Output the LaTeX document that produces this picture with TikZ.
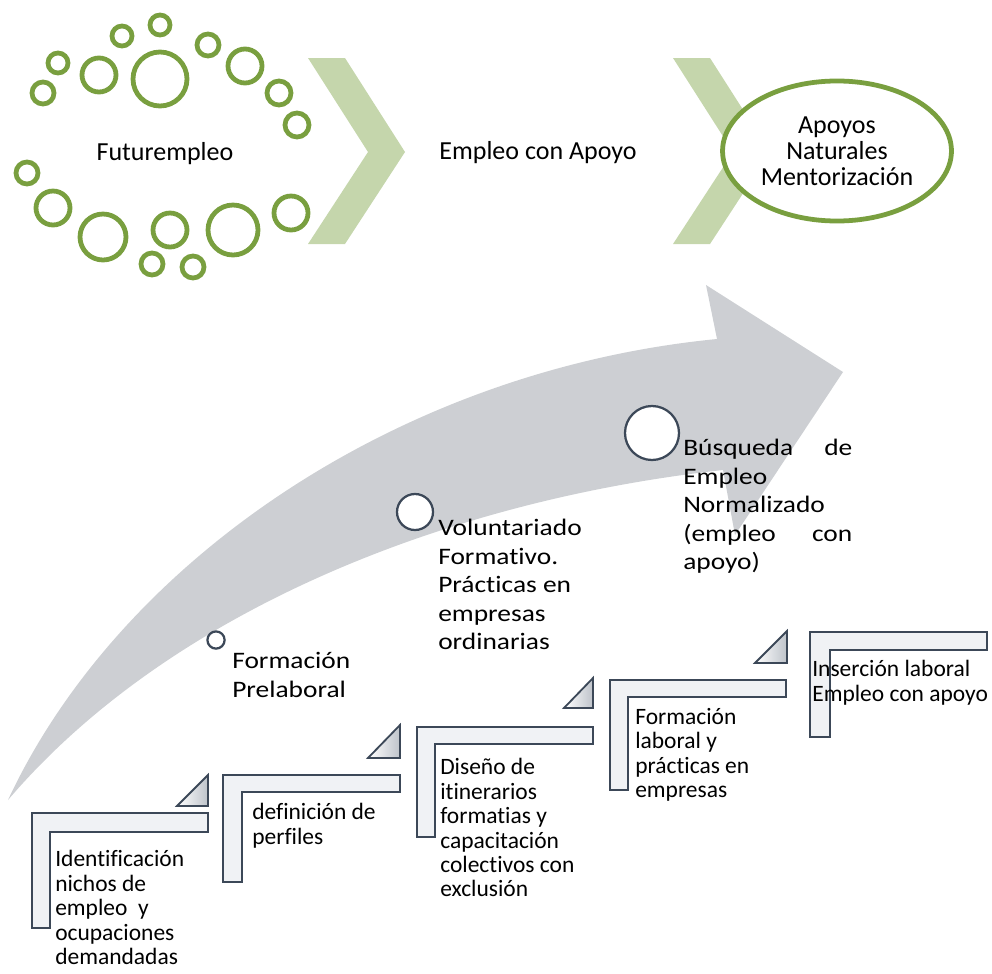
\documentclass[tikz,border=0pt]{standalone}
\usepackage{fontspec}
\setmainfont{Carlito}[Ligatures=NoCommon]
\newfontfamily\widefont{Carlito}[Ligatures=NoCommon, FakeStretch=1.16]
\usetikzlibrary{shapes.geometric}

\definecolor{ringgreen}{RGB}{121,159,63}
\definecolor{chevgreen}{RGB}{197,214,172}
\definecolor{arrowgray}{RGB}{205,207,211}
\definecolor{slate}{RGB}{60,72,88}
\definecolor{bevel}{RGB}{190,195,202}
\definecolor{stairfill}{RGB}{240,242,245}

\tikzset{
  ring/.style={draw=ringgreen, line width=3.4pt},
  chevron/.style={fill=chevgreen},
  stepdot/.style={circle, draw=slate, fill=white, line width=1.6pt, inner sep=0pt},
  stair/.style={draw=slate, line width=1.3pt, fill=stairfill, line join=miter},
  corner/.style={draw=slate, line width=1.3pt, left color=white, right color=bevel},
  toptext/.style={font=\fontsize{18.5}{18.5}\selectfont},
  steptext/.style={anchor=north west, inner sep=0pt, align=left, font=\widefont\fontsize{16.8}{20.3}\selectfont},
  stairtext/.style={anchor=north west, inner sep=0pt, align=left, font=\fontsize{16.7}{17.4}\selectfont},
}

\begin{document}
\begin{tikzpicture}[x=0.025cm, y=-0.025cm]
\useasboundingbox (0,0) rectangle (992,973);

% Drawing the chevrons
\fill[chevron] (308,58) -- (345,58) -- (405,152) -- (345,244) -- (308,244) -- (368,152) -- cycle;
\fill[chevron] (673,58) -- (710,58) -- (770,152) -- (710,244) -- (673,244) -- (733,152) -- cycle;

% Drawing the rings, upper half
\draw[ring] (160,25) circle (10) (122,36) circle (10) (58,63) circle (10) (43,93) circle (11);
\draw[ring] (99,75) circle (17) (160,79) circle (27) (208,45) circle (11) (245,66) circle (17);
\draw[ring] (279,93) circle (12) (297,125) circle (12);

% Drawing the rings, lower half
\draw[ring] (27,173) circle (11) (53,208) circle (17) (103,237) circle (23) (170,230) circle (17);
\draw[ring] (152,264) circle (11) (193,267) circle (11) (233,230) circle (25) (291,213) circle (17);

% Marking the three stages
\node[toptext, anchor=base] (futur) at (165,160) {Futurempleo};
\node[toptext, anchor=base] (eca) at (538,159) {Empleo con Apoyo};
\node[toptext, ellipse, draw=ringgreen, line width=3.4pt, fill=white, minimum width=5.7cm,
  minimum height=3.5cm, align=center] (apoyos) at (837,151) {Apoyos\\Naturales\\Mentorización};

% Drawing the big arrow
\fill[arrowgray] (8,800) .. controls (120,560) and (400,370) .. (717,339)
  -- (706,285) -- (843,372) -- (735,535) -- (723,470)
  .. controls (450,500) and (170,610) .. (8,800) -- cycle;

% Marking the points on the arrow
\node[stepdot, minimum size=0.43cm] (prelab) at (216,640) {};
\node[steptext] (prelabtxt) at (232,652) {Formación\\Prelaboral};

\node[stepdot, minimum size=0.9cm] (volun) at (415,512) {};
\node[steptext] (voluntxt) at (438,519) {Voluntariado\\Formativo.\\Prácticas en\\empresas\\ordinarias};

\node[stepdot, minimum size=1.35cm] (busq) at (652,433) {};
\node[steptext, text width=4.225cm] (busqtxt) at (683,439)
  {Búsqueda\hfill de\\Empleo\\Normalizado\\(empleo\hfill con\\apoyo)};

% Drawing the stairs
\draw[stair] (32,813) -- (208,813) -- (208,832) -- (50,832) -- (50,928) -- (32,928) -- cycle;
\draw[corner] (177,806) -- (208,806) -- (208,775) -- cycle;

\draw[stair] (223,775) -- (400,775) -- (400,792) -- (242,792) -- (242,882) -- (223,882) -- cycle;
\draw[corner] (368,758) -- (400,758) -- (400,725) -- cycle;

\draw[stair] (417,727) -- (593,727) -- (593,744) -- (435,744) -- (435,837) -- (417,837) -- cycle;
\draw[corner] (564,708) -- (593,708) -- (593,678) -- cycle;

\draw[stair] (610,680) -- (786,680) -- (786,697) -- (628,697) -- (628,790) -- (610,790) -- cycle;
\draw[corner] (755,663) -- (787,663) -- (787,631) -- cycle;

\draw[stair] (810,632) -- (987,632) -- (987,650) -- (830,650) -- (830,737) -- (810,737) -- cycle;

% Marking the stair labels
\node[stairtext] (nichos) at (55,850) {Identificación\\nichos de\\empleo\ \ y\\ocupaciones\\demandadas};
\node[stairtext] (perfiles) at (252,803) {definición de\\perfiles};
\node[stairtext] (diseno) at (440,758) {Diseño de\\itinerarios\\formatias y\\capacitación\\colectivos con\\exclusión};
\node[stairtext] (practicas) at (635,708) {Formación\\laboral y\\prácticas en\\empresas};
\node[stairtext] (insercion) at (812,660) {Inserción laboral\\Empleo con apoyo};

\end{tikzpicture}
\end{document}
